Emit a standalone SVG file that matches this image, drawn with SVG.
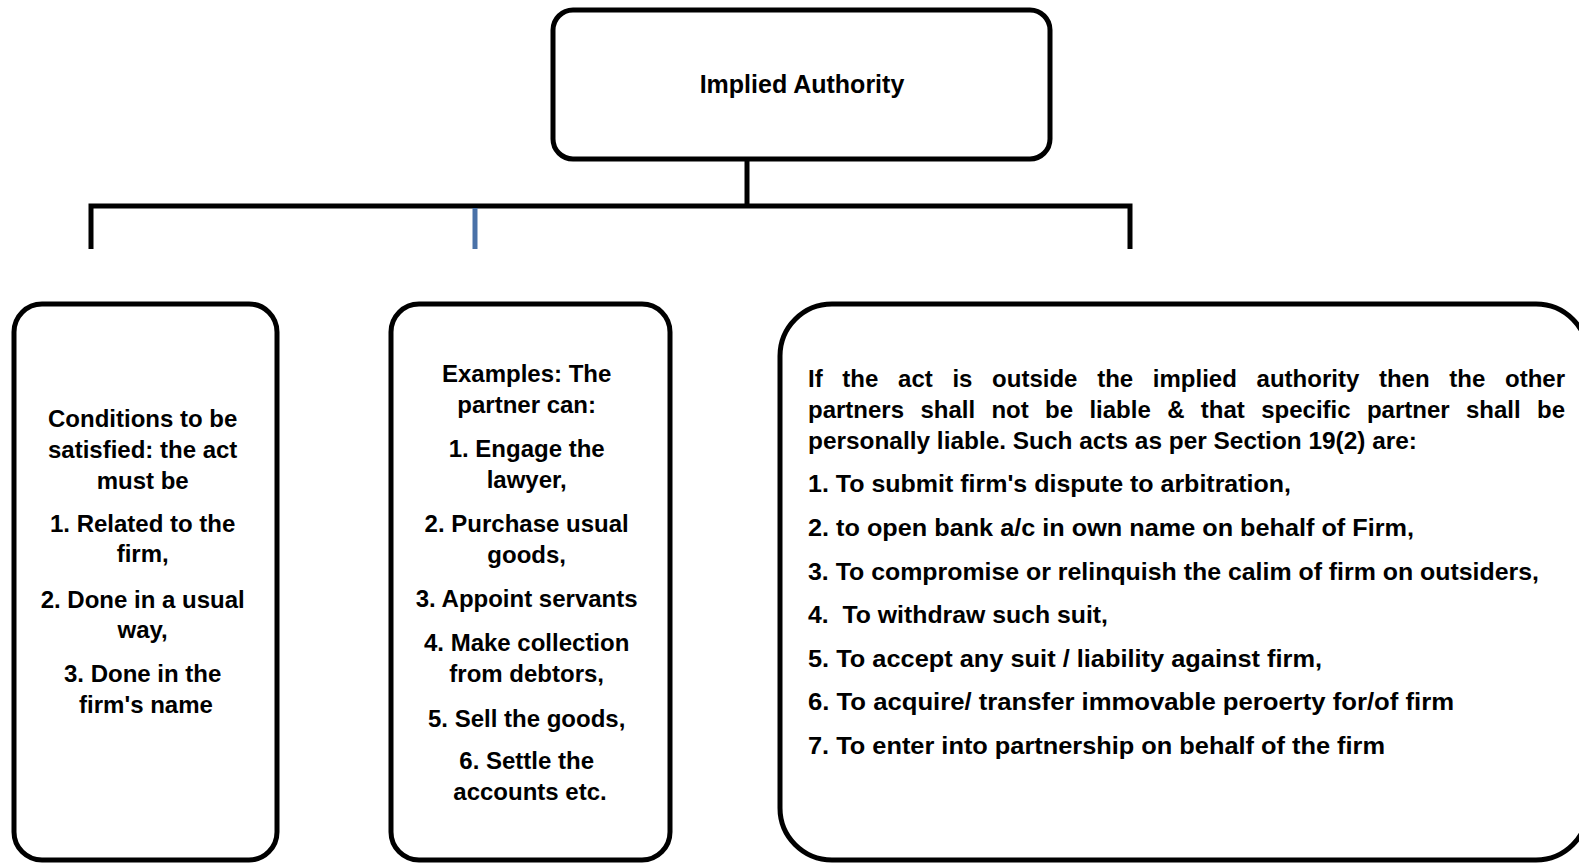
<svg xmlns="http://www.w3.org/2000/svg" width="1579" height="864" viewBox="0 0 1579 864">
<style>
.box{fill:#fff;stroke:#000;stroke-width:5}
.t{font-family:"Liberation Sans",Arial,sans-serif;font-weight:bold;font-size:24px;fill:#000}
.c{text-anchor:middle}
.conn{fill:none;stroke:#000;stroke-width:5}
</style>
<rect width="1579" height="864" fill="#fff"/>
<g id="connectors">
<path class="conn" d="M747,160 V206"/>
<path class="conn" d="M91,249 V206 H1130 V249"/>
<line x1="475" y1="208" x2="475" y2="249" stroke="#4a72a8" stroke-width="5"/>
<line x1="747" y1="112" x2="747" y2="157" stroke="#c8c8c8" stroke-width="2" stroke-dasharray="1 1"/>
</g>
<g id="top">
<rect class="box" x="553" y="10" width="497" height="149" rx="20"/>
<text class="t c" x="802" y="93" style="font-size:25px">Implied Authority</text>
</g>
<g id="conditions">
<rect class="box" x="14" y="304" width="263" height="556" rx="28"/>
<text class="t c">
<tspan x="146" y="427">Conditions to be</tspan>
<tspan x="146" y="458">satisfied: the act</tspan>
<tspan x="146" y="489">must be</tspan>
<tspan x="146" y="532">1. Related to the</tspan>
<tspan x="146" y="562">firm,</tspan>
<tspan x="146" y="608">2. Done in a usual</tspan>
<tspan x="146" y="638">way,</tspan>
<tspan x="146" y="682">3. Done in the</tspan>
<tspan x="146" y="713">firm's name</tspan>
</text>
</g>
<g id="examples">
<rect class="box" x="391" y="304" width="279" height="556" rx="28"/>
<text class="t c">
<tspan x="530" y="382">Examples: The</tspan>
<tspan x="530" y="413">partner can:</tspan>
<tspan x="530" y="457">1. Engage the</tspan>
<tspan x="530" y="488">lawyer,</tspan>
<tspan x="530" y="532">2. Purchase usual</tspan>
<tspan x="530" y="563">goods,</tspan>
<tspan x="530" y="607">3. Appoint servants</tspan>
<tspan x="530" y="651">4. Make collection</tspan>
<tspan x="530" y="682">from debtors,</tspan>
<tspan x="530" y="727">5. Sell the goods,</tspan>
<tspan x="530" y="769">6. Settle the</tspan>
<tspan x="530" y="800">accounts etc.</tspan>
</text>
</g>
<g id="outside">
<path class="box" d="M832,304 H1536 A52,52 0 0 1 1588,356 V808 A52,52 0 0 1 1536,860 H832 A52,52 0 0 1 780,808 V356 A52,52 0 0 1 832,304 Z"/>
<text class="t" x="808" y="387" style="word-spacing:13px" textLength="757" lengthAdjust="spacing">If the act is outside the implied authority then the other</text>
<text class="t" x="808" y="418" style="word-spacing:9.7px" textLength="757" lengthAdjust="spacing">partners shall not be liable &amp; that specific partner shall be</text>
<text class="t" x="808" y="449" textLength="609" lengthAdjust="spacingAndGlyphs">personally liable. Such acts as per Section 19(2) are:</text>
<text class="t" x="808" y="492" textLength="483" lengthAdjust="spacingAndGlyphs">1. To submit firm's dispute to arbitration,</text>
<text class="t" x="808" y="536" textLength="606" lengthAdjust="spacingAndGlyphs">2. to open bank a/c in own name on behalf of Firm,</text>
<text class="t" x="808" y="580" textLength="731" lengthAdjust="spacingAndGlyphs">3. To compromise or relinquish the calim of firm on outsiders,</text>
<text class="t" x="808" y="623" textLength="300" lengthAdjust="spacingAndGlyphs" xml:space="preserve">4.  To withdraw such suit,</text>
<text class="t" x="808" y="667" textLength="514" lengthAdjust="spacingAndGlyphs">5. To accept any suit / liability against firm,</text>
<text class="t" x="808" y="710" textLength="646" lengthAdjust="spacingAndGlyphs">6. To acquire/ transfer immovable peroerty for/of firm</text>
<text class="t" x="808" y="754" textLength="577" lengthAdjust="spacingAndGlyphs">7. To enter into partnership on behalf of the firm</text>
</g>
</svg>
